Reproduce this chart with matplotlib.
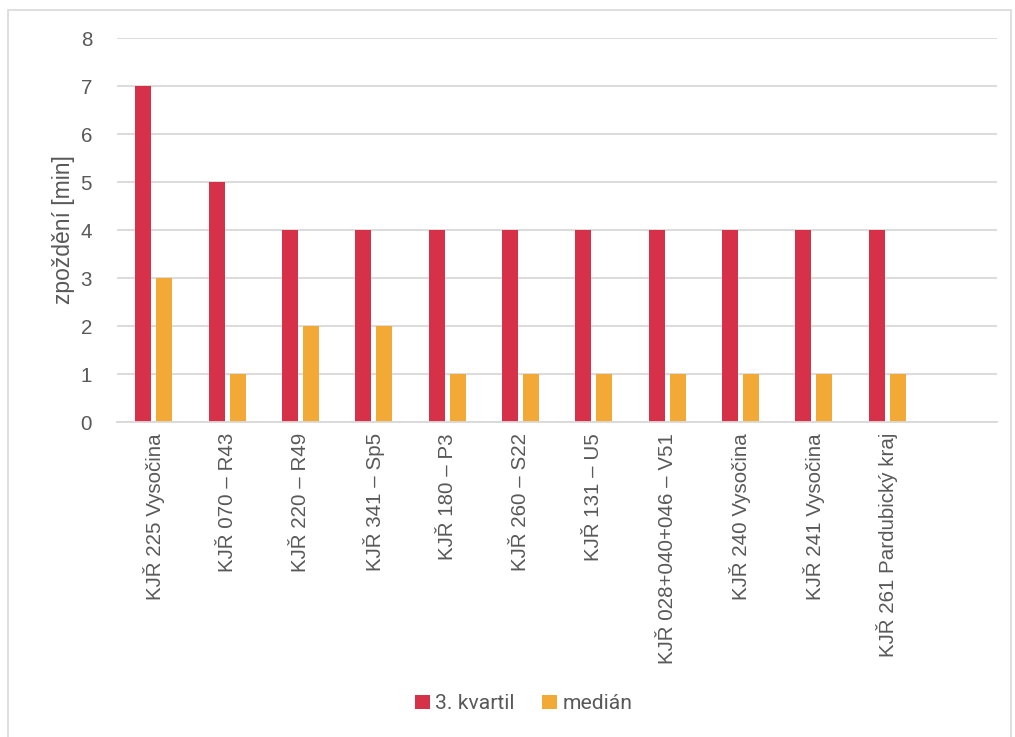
import matplotlib.pyplot as plt
import numpy as np
from matplotlib.patches import Rectangle

# data
categories = ['KJŘ 225 Vysočina', 'KJŘ 070 – R43', 'KJŘ 220 – R49', 'KJŘ 341 – Sp5',
              'KJŘ 180 – P3', 'KJŘ 260 – S22', 'KJŘ 131 – U5', 'KJŘ 028+040+046 – V51',
              'KJŘ 240 Vysočina', 'KJŘ 241 Vysočina', 'KJŘ 261 Pardubický kraj', '']
q3 = [7, 5, 4, 4, 4, 4, 4, 4, 4, 4, 4, 0]
median = [3, 1, 2, 2, 1, 1, 1, 1, 1, 1, 1, 0]

red = '#D7314A'
orange = '#F2A935'
txt = '#595959'
grid = '#D9D9D9'

plt.rcParams['font.family'] = ['Liberation Sans', 'DejaVu Sans']

fig = plt.figure(figsize=(10.15, 7.37), dpi=100)
ax = fig.add_axes([0.1153, 0.4274, 0.867, 0.521])

x = np.arange(len(categories))
w = 0.218
ax.bar(x - 0.143, q3, w, color=red, label='3. kvartil')
ax.bar(x + 0.143, median, w, color=orange, label='medián')

ax.set_xlim(-0.5, len(categories) - 0.5)
ax.set_ylim(0, 8)
ax.set_yticks(range(0, 9))
ax.yaxis.grid(True, color=grid, linewidth=1.3)
ax.set_axisbelow(True)
for s in ['top', 'right', 'left']:
    ax.spines[s].set_visible(False)
ax.spines['bottom'].set_color(grid)
ax.spines['bottom'].set_linewidth(1.3)
ax.tick_params(axis='both', length=0, colors=txt, labelsize=14.8)
ax.tick_params(axis='y', pad=18)
ax.tick_params(axis='x', pad=8)
ax.set_xticks(x)
ax.set_xticklabels(categories, rotation=90, va='top', ha='center')
ax.set_ylabel('zpoždění [min]', color=txt, fontsize=16.5, labelpad=4)

fig.legend(loc='center', bbox_to_anchor=(0.516, 0.045), ncol=2, frameon=False,
           labelcolor=txt, handlelength=0.7, handleheight=0.7,
           handletextpad=0.25, columnspacing=1.3, prop={'family': 'Roboto', 'size': 15.2})

fig.patches.append(Rectangle((8 / 1015, -0.01), 1003 / 1015, 1 - 10 / 737 + 0.01,
                             transform=fig.transFigure, fill=False,
                             edgecolor=grid, linewidth=1.2))

fig.savefig('out.png', dpi=100, facecolor='white')
